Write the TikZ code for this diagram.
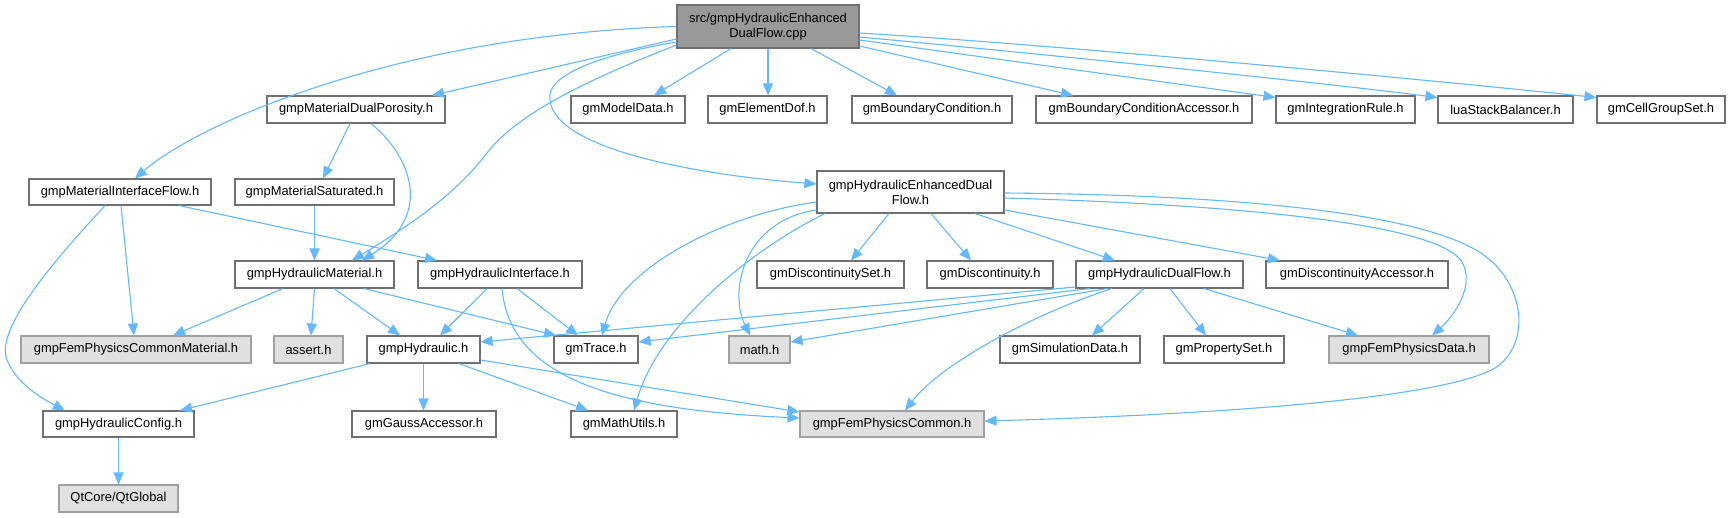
\documentclass[tikz,border=0pt]{standalone}
\usepackage{fontspec}
\setmainfont{Liberation Sans}
\usetikzlibrary{arrows.meta,calc}
\definecolor{edgec}{HTML}{63B8FF}
\definecolor{boxb}{HTML}{707070}
\definecolor{grayf}{HTML}{E0E0E0}
\definecolor{grayb}{HTML}{A0A0A0}
\definecolor{srcf}{HTML}{999999}
\tikzset{
  wbox/.style={rectangle, draw=boxb, fill=white, line width=1.1pt, inner sep=0pt,
    minimum height=27pt, font=\fontsize{12.9}{15}\selectfont, text=black},
  gbox/.style={wbox, draw=grayb, fill=grayf},
  sbox/.style={wbox, draw=boxb, fill=srcf},
  dep/.style={draw=edgec, line width=1.1pt, -{Triangle[length=12pt,width=10pt]}}
}
\begin{document}
\begin{tikzpicture}[x=1pt,y=-1pt]
\useasboundingbox (0,0) rectangle (1731,517);
% row 0
\node[sbox, minimum width=182pt, minimum height=43pt, align=center] (src) at (768,26.5) {src/gmpHydraulicEnhanced\\DualFlow.cpp};
% row 1
\node[wbox, minimum width=178pt] (mdp) at (356,109.5) {gmpMaterialDualPorosity.h};
\node[wbox, minimum width=114pt] (md) at (628,109.5) {gmModelData.h};
\node[wbox, minimum width=119pt] (ed) at (767.5,109.5) {gmElementDof.h};
\node[wbox, minimum width=160pt] (bc) at (932,109.5) {gmBoundaryCondition.h};
\node[wbox, minimum width=216pt] (bca) at (1144,109.5) {gmBoundaryConditionAccessor.h};
\node[wbox, minimum width=139pt] (ir) at (1345.5,109.5) {gmIntegrationRule.h};
\node[wbox, minimum width=135pt] (lua) at (1505.5,109.5) {luaStackBalancer.h};
\node[wbox, minimum width=128pt] (cgs) at (1661,109.5) {gmCellGroupSet.h};
% row 2
\node[wbox, minimum width=182pt, minimum height=26pt] (mif) at (120,192) {gmpMaterialInterfaceFlow.h};
\node[wbox, minimum width=159pt, minimum height=26pt] (ms) at (314.5,192) {gmpMaterialSaturated.h};
\node[wbox, minimum width=187pt, minimum height=42pt, align=center] (hedf) at (910.5,192) {gmpHydraulicEnhancedDual\\Flow.h};
% row 3
\node[wbox, minimum width=159pt] (hm) at (314.5,274.5) {gmpHydraulicMaterial.h};
\node[wbox, minimum width=164pt] (hi) at (500,274.5) {gmpHydraulicInterface.h};
\node[wbox, minimum width=147pt] (ds) at (830.5,274.5) {gmDiscontinuitySet.h};
\node[wbox, minimum width=126pt] (disc) at (990,274.5) {gmDiscontinuity.h};
\node[wbox, minimum width=167pt] (hdf) at (1159.5,274.5) {gmpHydraulicDualFlow.h};
\node[wbox, minimum width=182pt] (da) at (1357,274.5) {gmDiscontinuityAccessor.h};
% row 4
\node[gbox, minimum width=230pt] (fpcm) at (136,349.5) {gmpFemPhysicsCommonMaterial.h};
\node[gbox, minimum width=69pt] (as) at (308.5,349.5) {assert.h};
\node[wbox, minimum width=113pt] (hyd) at (423.5,349.5) {gmpHydraulic.h};
\node[wbox, minimum width=84pt] (tr) at (596,349.5) {gmTrace.h};
\node[gbox, minimum width=61pt] (mh) at (759.5,349.5) {math.h};
\node[wbox, minimum width=140pt] (sd) at (1070,349.5) {gmSimulationData.h};
\node[wbox, minimum width=120pt] (ps) at (1224,349.5) {gmPropertySet.h};
\node[gbox, minimum width=160pt] (fpd) at (1409,349.5) {gmpFemPhysicsData.h};
% row 5
\node[wbox, minimum width=151pt, minimum height=26pt] (hc) at (118.5,424) {gmpHydraulicConfig.h};
\node[wbox, minimum width=144pt, minimum height=26pt] (ga) at (424,424) {gmGaussAccessor.h};
\node[wbox, minimum width=106pt, minimum height=26pt] (mu) at (624,424) {gmMathUtils.h};
\node[gbox, minimum width=184pt, minimum height=26pt] (fpc) at (892,424) {gmpFemPhysicsCommon.h};
% row 6
\node[gbox, minimum width=119pt] (qt) at (118.5,498.5) {QtCore/QtGlobal};

% edges from src
\draw[dep] (src.west) .. controls (400,35) and (200,122) .. ($(mif.north)+(15,0)$);
\draw[dep] ($(src.west)+(0,12.5)$) -- ($(mdp.north)+(76,0)$);
\draw[dep] ($(src.west)+(0,18.5)$) .. controls (600,75) and (520,110) .. (487,153)
   .. controls (455,195) and (410,225) .. ($(hm.north)+(37.5,0)$);
\draw[dep] ($(src.west)+(0,15.5)$) .. controls (600,55) and (545,75) .. (550,100)
   .. controls (555,150) and (700,175) .. ($(hedf.west)+(0,-8)$);
\draw[dep] ($(src.south)+(-37,0)$) -- ($(md.north)+(26,0)$);
\draw[dep] (src.south) -- (src.south |- ed.north);
\draw[dep] ($(src.south)+(43,0)$) -- ($(bc.north)+(-35,0)$);
\draw[dep] ($(src.east)+(0,19.5)$) -- ($(bca.north)+(-71,0)$);
\draw[dep] ($(src.east)+(0,13.5)$) -- ($(ir.west)+(0,-12)$);
\draw[dep] ($(src.east)+(0,10.5)$) .. controls (1000,50) and (1300,80) .. ($(lua.west)+(0,-12)$);
\draw[dep] ($(src.east)+(0,6.5)$) .. controls (1050,44.5) and (1400,77) .. ($(cgs.west)+(0,-12)$);

% material edges
\draw[dep] ($(mdp.south)+(-6,0)$) -- ($(ms.north)+(8.5,0)$);
\draw[dep] ($(mdp.south)+(15,0)$) .. controls (410,155) and (435,215) .. ($(hm.north)+(47.5,0)$);
\draw[dep] (ms.south) -- (hm.north);
\draw[dep] ($(mif.south)+(-15,0)$) .. controls (50,265) and (-5,330) .. (7,360)
   .. controls (17,385) and (45,400) .. ($(hc.north)+(-53.5,0)$);
\draw[dep] ($(mif.south)+(1,0)$) -- ($(fpcm.north)+(-2,0)$);
\draw[dep] ($(mif.south)+(59,0)$) -- ($(hi.north)+(-63,0)$);
\draw[dep] ($(hm.south)+(-31.5,0)$) -- ($(fpcm.north)+(37,0)$);
\draw[dep] (hm.south) -- ($(as.north)+(2.5,0)$);
\draw[dep] ($(hm.south)+(19.5,0)$) -- ($(hyd.north)+(-23.5,0)$);
\draw[dep] ($(hm.south)+(49.5,0)$) -- ($(tr.north)+(-40,0)$);
\draw[dep] ($(hi.south)+(-13,0)$) -- ($(hyd.north)+(16.5,0)$);
\draw[dep] ($(hi.south)+(17,0)$) -- ($(tr.north)+(-18,0)$);
\draw[dep] ($(hi.south)+(2,0)$) .. controls (510,380) and (620,410) .. ($(fpc.west)+(0,-6)$);
\draw[dep] ($(hyd.south)+(-53.5,0)$) -- ($(hc.north)+(61.5,0)$);
\draw[dep] (hyd.south) -- (hyd.south |- ga.north);
\draw[dep] ($(hyd.south)+(35.5,0)$) -- ($(mu.north)+(-36,0)$);
\draw[dep] ($(hyd.east)+(0,10.5)$) -- ($(fpc.west)+(0,-12)$);
\draw[dep] (hc.south) -- (qt.north);

% edges from gmpHydraulicEnhancedDualFlow.h
\draw[dep] ($(hedf.west)+(0,10)$) .. controls (720,215) and (620,270) .. ($(tr.north)+(6,0)$);
\draw[dep] ($(hedf.south)+(-85.5,0)$) .. controls (760,245) and (660,320) .. ($(mu.north)+(10,0)$);
\draw[dep] ($(hedf.west)+(0,18)$) .. controls (745,220) and (728,290) .. ($(mh.north)+(-9.5,0)$);
\draw[dep] ($(hedf.south)+(-21.5,0)$) -- ($(ds.north)+(20.5,0)$);
\draw[dep] ($(hedf.south)+(20.5,0)$) -- ($(disc.north)+(-19,0)$);
\draw[dep] ($(hedf.south)+(64.5,0)$) -- ($(hdf.north)+(-44.5,0)$);
\draw[dep] ($(hedf.east)+(0,18)$) -- ($(da.north)+(-77,0)$);
\draw[dep] ($(hedf.east)+(0,6)$) .. controls (1250,205) and (1440,225) .. (1462,262)
   .. controls (1475,285) and (1455,315) .. ($(fpd.north)+(23,0)$);
\draw[dep] ($(hedf.east)+(0,1)$) .. controls (1250,195) and (1440,215) .. (1490,260)
   .. controls (1525,290) and (1530,345) .. (1495,368)
   .. controls (1440,400) and (1200,415) .. ($(fpc.east)+(0,-3)$);

% edges from gmpHydraulicDualFlow.h
\draw[dep] ($(hdf.west)+(0,12.5)$) -- ($(hyd.east)+(0,-7.5)$);
\draw[dep] ($(hdf.south)+(-69.5,0)$) -- ($(tr.east)+(0,-7.5)$);
\draw[dep] ($(hdf.south)+(-52.5,0)$) -- ($(mh.east)+(0,-7.5)$);
\draw[dep] ($(hdf.south)+(-47.5,0)$) .. controls (1030,315) and (940,365) .. ($(fpc.north)+(13,0)$);
\draw[dep] ($(hdf.south)+(-15.5,0)$) -- ($(sd.north)+(22,0)$);
\draw[dep] ($(hdf.south)+(10.5,0)$) -- ($(ps.north)+(-18,0)$);
\draw[dep] ($(hdf.south)+(44.5,0)$) -- ($(fpd.north)+(-51,0)$);
\end{tikzpicture}
\end{document}
